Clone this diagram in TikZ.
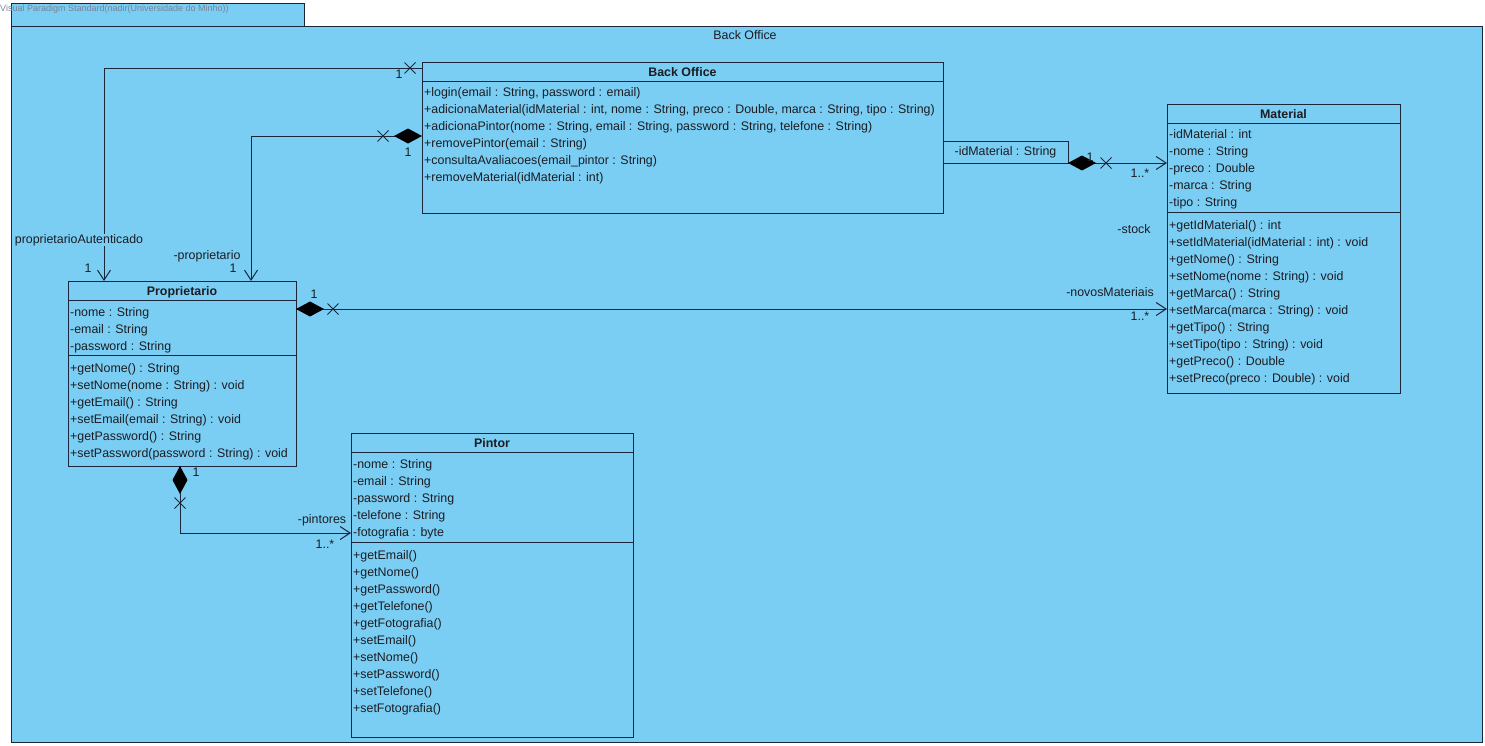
\documentclass[tikz,border=0pt]{standalone}
\usepackage{fontspec}
\setmainfont{Liberation Sans}
\usetikzlibrary{arrows.meta,shapes.misc,calc}
\definecolor{pkgfill}{RGB}{122,206,244}
\definecolor{ink}{RGB}{28,38,58}
\definecolor{txt}{RGB}{28,28,34}
\definecolor{wm}{RGB}{120,130,150}

\tikzset{
  classbox/.style={draw=ink, line width=1pt, fill=pkgfill, anchor=north west, inner sep=0pt, outer sep=0pt},
  sep/.style={draw=ink, line width=1pt},
  row/.style={anchor=base west, inner sep=0pt, font=\fontsize{12.4}{14}\selectfont, text=txt},
  head/.style={anchor=base, inner sep=0pt, font=\fontsize{12.4}{14}\selectfont\bfseries, text=txt},
  lbl/.style={inner sep=0.5pt, font=\fontsize{12.4}{14}\selectfont, text=txt},
  assoc/.style={draw=ink, line width=1pt},
  nav/.style={-{Straight Barb[length=10pt,width=13pt,line width=1pt]}},
  compnav/.style={{Diamond[length=28pt,width=15pt,fill=black,color=black]}-{Straight Barb[length=10pt,width=13pt,line width=1pt]}},
  xmark/.style={draw=ink, cross out, minimum size=10pt, inner sep=0pt, line width=1pt},
}

\begin{document}
\begin{tikzpicture}[x=1pt,y=-1pt]
\useasboundingbox (0,0) rectangle (1485,745);

% package frame with its tab
\node[classbox, minimum width=293pt, minimum height=23pt] (tab) at (11,3) {};
\node[classbox, minimum width=1471pt, minimum height=716pt] (pkg) at (11,26) {};
\node[anchor=west, inner sep=0pt, font=\fontsize{9}{10}\selectfont, text=wm] (wmark) at (0,9) {Visual Paradigm Standard(nadir(Universidade do Minho))};
\node[lbl] (pkgname) at (745,35) {Back Office};

% class Back Office
\node[classbox, minimum width=521pt, minimum height=151pt] (bo) at (422,62) {};
\node[head] (bo-h) at ($(bo.north)+(0,14.5)$) {Back Office};
\draw[sep] ($(bo.north west)+(0,19)$) -- ($(bo.north east)+(0,19)$);
\foreach \t [count=\i from 0] in {%
  {+login(email : String, password : email)},
  {+adicionaMaterial(idMaterial : int, nome : String, preco : Double, marca : String, tipo : String)},
  {+adicionaPintor(nome : String, email : String, password : String, telefone : String)},
  {+removePintor(email : String)},
  {+consultaAvaliacoes(email\_pintor : String)},
  {+removeMaterial(idMaterial : int)}}
  \node[row] (bo-m\i) at ($(bo.north west)+(2,34+17.1*\i)$) {\t};

% class Material
\node[classbox, minimum width=233pt, minimum height=289pt] (mat) at (1167,104) {};
\node[head] (mat-h) at ($(mat.north)+(0,14.5)$) {Material};
\draw[sep] ($(mat.north west)+(0,19)$) -- ($(mat.north east)+(0,19)$);
\draw[sep] ($(mat.north west)+(0,108)$) -- ($(mat.north east)+(0,108)$);
\foreach \t [count=\i from 0] in {%
  {-idMaterial : int}, {-nome : String}, {-preco : Double}, {-marca : String}, {-tipo : String}}
  \node[row] (mat-a\i) at ($(mat.north west)+(2,34+17.1*\i)$) {\t};
\foreach \t [count=\i from 0] in {%
  {+getIdMaterial() : int},
  {+setIdMaterial(idMaterial : int) : void},
  {+getNome() : String},
  {+setNome(nome : String) : void},
  {+getMarca() : String},
  {+setMarca(marca : String) : void},
  {+getTipo() : String},
  {+setTipo(tipo : String) : void},
  {+getPreco() : Double},
  {+setPreco(preco : Double) : void}}
  \node[row] (mat-m\i) at ($(mat.north west)+(2,125+17.1*\i)$) {\t};

% class Proprietario
\node[classbox, minimum width=228pt, minimum height=185pt] (prop) at (68,281) {};
\node[head] (prop-h) at ($(prop.north)+(0,14.5)$) {Proprietario};
\draw[sep] ($(prop.north west)+(0,19)$) -- ($(prop.north east)+(0,19)$);
\draw[sep] ($(prop.north west)+(0,74)$) -- ($(prop.north east)+(0,74)$);
\foreach \t [count=\i from 0] in {%
  {-nome : String}, {-email : String}, {-password : String}}
  \node[row] (prop-a\i) at ($(prop.north west)+(2,35+17.1*\i)$) {\t};
\foreach \t [count=\i from 0] in {%
  {+getNome() : String},
  {+setNome(nome : String) : void},
  {+getEmail() : String},
  {+setEmail(email : String) : void},
  {+getPassword() : String},
  {+setPassword(password : String) : void}}
  \node[row] (prop-m\i) at ($(prop.north west)+(2,91+17.1*\i)$) {\t};

% class Pintor
\node[classbox, minimum width=282pt, minimum height=304pt] (pin) at (351,433) {};
\node[head] (pin-h) at ($(pin.north)+(0,14.5)$) {Pintor};
\draw[sep] ($(pin.north west)+(0,19)$) -- ($(pin.north east)+(0,19)$);
\draw[sep] ($(pin.north west)+(0,109)$) -- ($(pin.north east)+(0,109)$);
\foreach \t [count=\i from 0] in {%
  {-nome : String}, {-email : String}, {-password : String}, {-telefone : String}, {-fotografia : byte}}
  \node[row] (pin-a\i) at ($(pin.north west)+(2,35+17.1*\i)$) {\t};
\foreach \t [count=\i from 0] in {%
  {+getEmail()}, {+getNome()}, {+getPassword()}, {+getTelefone()}, {+getFotografia()},
  {+setEmail()}, {+setNome()}, {+setPassword()}, {+setTelefone()}, {+setFotografia()}}
  \node[row] (pin-m\i) at ($(pin.north west)+(2,126+17.0*\i)$) {\t};

% association: proprietarioAutenticado
\coordinate (a1s) at ($(bo.north west)+(0,6)$);
\coordinate (a1e) at ($(prop.north west)+(36,0)$);
\draw[assoc, nav] (a1s) -| (a1e);
\node[xmark] (a1x) at ($(a1s)+(-12,0)$) {};
\node[lbl] (a1m1) at (399,74) {1};
\node[lbl, fill=pkgfill] (a1r) at (79,240) {proprietarioAutenticado};
\node[lbl] (a1m2) at (88,268) {1};

% composition: -proprietario
\coordinate (a2s) at ($(bo.north west)+(0,74)$);
\coordinate (a2e) at ($(prop.north west)+(183,0)$);
\draw[assoc, compnav] (a2s) -| (a2e);
\node[xmark] (a2x) at ($(a2s)+(-39,0)$) {};
\node[lbl] (a2m1) at (408,152) {1};
\node[lbl] (a2r) at (207,256) {-proprietario};
\node[lbl] (a2m2) at (233,268) {1};

% qualified composition: stock
\node[classbox, minimum width=125pt, minimum height=22pt] (qual) at (943,141) {};
\node[lbl] (qual-t) at (qual.center) {-idMaterial : String};
\coordinate (a3e) at (mat.west |- qual.south east);
\draw[assoc, compnav] (qual.south east) -- (a3e);
\node[xmark] (a3x) at ($(qual.south east)+(38,0)$) {};
\node[lbl] (a3m1) at (1090,157) {1};
\node[lbl] (a3m2) at (1140,173) {1..*};
\node[lbl] (a3r) at (1134,229) {-stock};

% composition: -novosMateriais
\coordinate (a4s) at ($(prop.north east)+(0,28)$);
\coordinate (a4e) at (mat.west |- a4s);
\draw[assoc, compnav] (a4s) -- (a4e);
\node[xmark] (a4x) at ($(a4s)+(37,0)$) {};
\node[lbl] (a4m1) at (314,294) {1};
\node[lbl] (a4r) at (1110,292) {-novosMateriais};
\node[lbl] (a4m2) at (1140,316) {1..*};

% composition: -pintores
\coordinate (a5s) at ($(prop.south west)+(112,0)$);
\coordinate (a5e) at ($(pin.north west)+(0,100)$);
\draw[assoc, compnav] (a5s) |- (a5e);
\node[xmark] (a5x) at ($(a5s)+(0,37)$) {};
\node[lbl] (a5m1) at (196,472) {1};
\node[lbl] (a5r) at (322,520) {-pintores};
\node[lbl] (a5m2) at (325,544) {1..*};
\end{tikzpicture}
\end{document}
